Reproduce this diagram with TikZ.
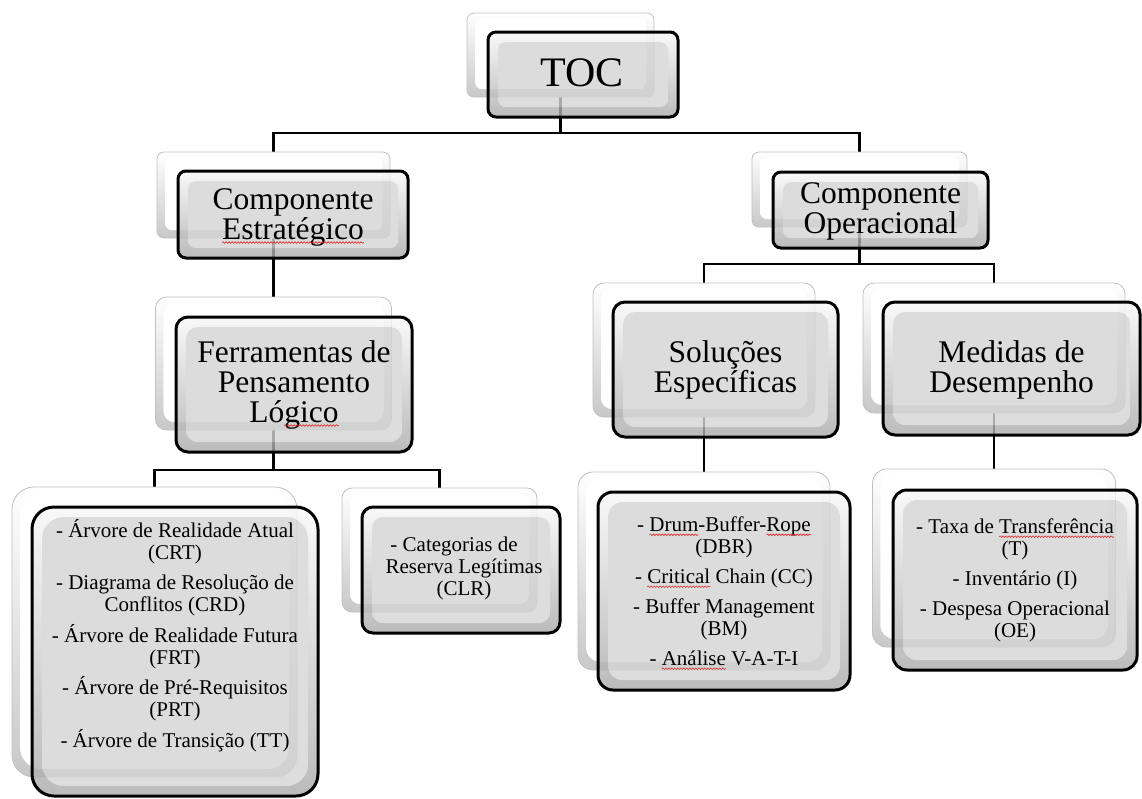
\documentclass[tikz,border=0pt]{standalone}
\usepackage{fontspec}
\setmainfont{Liberation Serif}
\usetikzlibrary{backgrounds,decorations.pathmorphing}

\definecolor{faceGray}{RGB}{212,212,212}
\definecolor{bevelTop}{RGB}{248,248,248}
\definecolor{bevelBot}{RGB}{170,170,170}
\definecolor{backEdge}{RGB}{192,192,192}
\definecolor{backShade}{RGB}{200,200,200}
\definecolor{spellRed}{RGB}{225,40,40}

% word with a red wavy underline
\newcommand\spell[1]{\tikz[baseline=(sw.base)]{\node[inner sep=0pt,outer sep=0pt,anchor=base](sw){#1};\draw[overlay,spellRed,line width=0.6pt,decorate,decoration={snake,amplitude=0.8pt,segment length=3pt}]([yshift=-3.5pt]sw.base west)--([yshift=-3.5pt]sw.base east);}}

\newcommand\midfont{\fontsize{31.5}{30}\selectfont}
\newcommand\listfont{\fontsize{21}{22}\selectfont}

\tikzset{
  backbox/.style={draw=backEdge, line width=0.8pt, inner sep=0pt, outer sep=0pt,
    path picture={
      \shade[top color=white, bottom color=backShade, even odd rule]
        (path picture bounding box.south west) rectangle (path picture bounding box.north east)
        ([shift={(8pt,8pt)}]path picture bounding box.south west) rectangle ([shift={(-8pt,-5pt)}]path picture bounding box.north east);
      \fill[white] ([shift={(8pt,8pt)}]path picture bounding box.south west) rectangle ([shift={(-8pt,-5pt)}]path picture bounding box.north east);
    }},
  frontbox/.style={draw=black, line width=3pt, inner sep=0pt, outer sep=0pt, fill opacity=0.8,
    path picture={
      \shade[top color=bevelTop, bottom color=bevelBot, even odd rule]
        (path picture bounding box.south west) rectangle (path picture bounding box.north east)
        ([shift={(10pt,10pt)}]path picture bounding box.south west) rectangle ([shift={(-10pt,-10pt)}]path picture bounding box.north east);
      \fill[faceGray] ([shift={(10pt,10pt)}]path picture bounding box.south west) rectangle ([shift={(-10pt,-10pt)}]path picture bounding box.north east);
    }},
  bigtxt/.style={font=\fontsize{42}{46}\selectfont, inner sep=0pt, text=black},
  midtxt/.style={font=\midfont, align=center, inner sep=0pt, text=black},
  listtxt/.style={font=\listfont, align=center, inner sep=0pt, text=black},
  link/.style={draw=black, line width=2.6pt},
}

\begin{document}
\lineskiplimit=-100pt
\begin{tikzpicture}[x=1pt,y=-1pt]
\useasboundingbox (0,0) rectangle (1142,798);

% back plates
\node[backbox, rounded corners=7pt, minimum width=187pt, minimum height=84pt] (tocB) at (560.5,55) {};
\node[backbox, rounded corners=7pt, minimum width=233pt, minimum height=86pt] (ceB) at (273.5,195) {};
\node[backbox, rounded corners=7pt, minimum width=215pt, minimum height=75pt] (coB) at (859.5,189.5) {};
\node[backbox, rounded corners=11pt, minimum width=236pt, minimum height=133pt] (fpB) at (273.5,363.5) {};
\node[backbox, rounded corners=11pt, minimum width=222pt, minimum height=134pt] (seB) at (704,350) {};
\node[backbox, rounded corners=11pt, minimum width=262pt, minimum height=130pt] (mdB) at (994,348) {};
\node[backbox, rounded corners=22pt, minimum width=285pt, minimum height=290pt] (llB) at (154.5,632) {};
\node[backbox, rounded corners=10pt, minimum width=195pt, minimum height=124pt] (clB) at (439.5,550) {};
\node[backbox, rounded corners=15pt, minimum width=252pt, minimum height=198pt] (dbB) at (704,571) {};
\node[backbox, rounded corners=14pt, minimum width=243pt, minimum height=178pt] (mlB) at (994,558) {};

% front plates
\node[frontbox, rounded corners=8pt, minimum width=190pt, minimum height=85pt] (tocF) at (583,74.5) {};
\node[frontbox, rounded corners=8pt, minimum width=230pt, minimum height=87pt] (ceF) at (293,214.5) {};
\node[frontbox, rounded corners=8pt, minimum width=215pt, minimum height=76pt] (coF) at (880.5,210) {};
\node[frontbox, rounded corners=12pt, minimum width=236pt, minimum height=135pt] (fpF) at (294,384.5) {};
\node[frontbox, rounded corners=12pt, minimum width=225pt, minimum height=135pt] (seF) at (725.5,369.5) {};
\node[frontbox, rounded corners=12pt, minimum width=257pt, minimum height=133pt] (mdF) at (1011.5,368.5) {};
\node[frontbox, rounded corners=22pt, minimum width=286pt, minimum height=289pt] (llF) at (175,651.5) {};
\node[frontbox, rounded corners=11pt, minimum width=198pt, minimum height=126pt] (clF) at (461,570) {};
\node[frontbox, rounded corners=15pt, minimum width=252pt, minimum height=198pt] (dbF) at (724,591) {};
\node[frontbox, rounded corners=14pt, minimum width=244pt, minimum height=180pt] (mlF) at (1015,580) {};

% labels
\node[bigtxt] (tocT) at ([shift={(-1pt,2pt)}]tocF.center) {TOC};
\node[midtxt] (ceT) at ([yshift=-2.5pt]ceF.center) {Componente\\\spell{Estratégico}};
\node[midtxt] (coT) at ([yshift=-1pt]coF.center) {Componente\\Operacional};
\node[midtxt] (fpT) at (fpF.center) {Ferramentas de\\Pensamento\\Ló\spell{gico}};
\node[midtxt] (seT) at (seF.center) {Soluções\\Específicas};
\node[midtxt] (mdT) at ([yshift=-1.5pt]mdF.center) {Medidas de\\Desempenho};
\node[listtxt] (llT) at ([yshift=16pt]llF.center) {- Árvore de Realidade Atual\\(CRT)\\[8.5pt]- Diagrama de Resolução de\\Conflitos (CRD)\\[8.5pt]- Árvore de Realidade Futura\\(FRT)\\[8.5pt]- Árvore de Pré-Requisitos\\(PRT)\\[8.5pt]- Árvore de Transição (TT)};
\node[listtxt] (clT) at ([shift={(3pt,2pt)}]clF.center) {- Categorias de\hspace*{20pt}\\Reserva Legítimas\\(CLR)};
\node[listtxt] (dbT) at (dbF.center) {- \spell{Drum}-Buffer-\spell{Rope}\\(DBR)\\[8pt]- \spell{Critical} Chain (CC)\\[8pt]- Buffer Management\\(BM)\\[8pt]- \spell{Análise} V-A-T-I};
\node[listtxt] (mlT) at (mlF.center) {- Taxa de \spell{Transferência}\\(T)\\[8pt]- Inventário (I)\\[8pt]- Despesa Operacional\\(OE)};

% connectors, behind the plates
\begin{pgfonlayer}{background}
\draw[link] (tocB.south) -- ++(0,36) coordinate (j1) -| (ceB.north);
\draw[link] (j1) -| (coB.north);
\draw[link] (ceB.south) -- (fpB.north);
\draw[link] (fpB.south) -- ++(0,40) coordinate (j2) -| (llB.north);
\draw[link] (j2) -| (clB.north);
\draw[link] (coB.south) -- ++(0,37) coordinate (j3) -| (seB.north);
\draw[link] (j3) -| (mdB.north);
\draw[link] (seB.south) -- (dbB.north);
\draw[link] (mdB.south) -- (mlB.north);
\end{pgfonlayer}
\end{tikzpicture}
\end{document}
